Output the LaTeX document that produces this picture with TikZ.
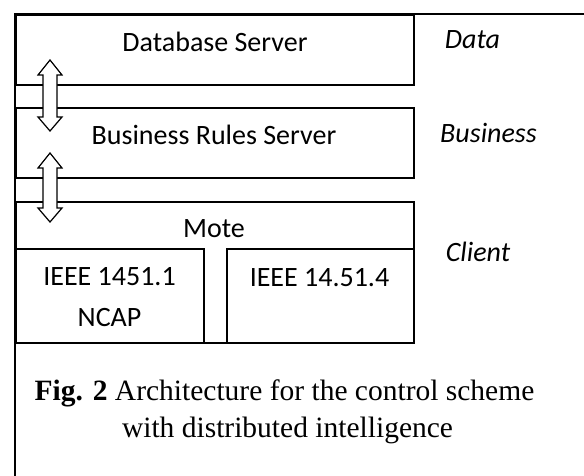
\documentclass[tikz,border=0pt]{standalone}
\usepackage{fontspec}
\setmainfont{Liberation Serif}
\newfontfamily\calib{Carlito}
\begin{document}
\begin{tikzpicture}[x=1pt,y=-1pt,
  box/.style={draw,line width=1.6pt,inner sep=0pt,anchor=north west},
  lbl/.style={font=\calib\fontsize{28}{34}\selectfont,anchor=base,inner sep=0pt},
  lay/.style={font=\calib\itshape\fontsize{28}{34}\selectfont,anchor=base,inner sep=0pt},
  captxt/.style={font=\fontsize{29.5}{34}\selectfont,anchor=base,inner sep=0pt},
  darrow/.style={draw,line width=1.2pt,fill=white,line join=miter},
  frameline/.style={line width=2.4pt}]
\useasboundingbox (0,0) rectangle (584,476);
% boxes
\node[box,minimum width=398pt,minimum height=70pt] (db) at (15,14) {};
\node[box,minimum width=398pt,minimum height=70pt] (br) at (15,107) {};
\node[box,minimum width=398pt,minimum height=141pt] (mote) at (15,201) {};
\node[box,minimum width=188pt,minimum height=94pt] (ieee1) at (15,248) {};
\node[box,minimum width=187pt,minimum height=94pt] (ieee4) at (226,248) {};
% texts
\node[lbl] (tdb) at (215,52) {Database Server};
\node[lbl] (tbr) at (214,144.5) {Business Rules Server};
\node[lbl] (tmote) at (214,237) {Mote};
\node[lbl] (t1a) at (109.5,285) {IEEE 1451.1};
\node[lbl] (t1b) at (109.5,326) {NCAP};
\node[lbl] (t4) at (319.5,286) {IEEE 14.51.4};
\node[lay] (ldata) at (472.5,49) {Data};
\node[lay] (lbus) at (488.5,143) {Business};
\node[lay] (lcli) at (478,261) {Client};
% double arrows between layers
\coordinate (a1) at (50,60);
\coordinate (a2) at (50,153);
\draw[darrow] (a1) -- ++(12,15) -- ++(-5,0) -- ++(0,42) -- ++(5,0) -- ++(-12,14)
  -- ++(-12,-14) -- ++(5,0) -- ++(0,-42) -- ++(-5,0) -- cycle;
\draw[darrow] (a2) -- ++(12,15) -- ++(-5,0) -- ++(0,40) -- ++(5,0) -- ++(-12,14)
  -- ++(-12,-14) -- ++(5,0) -- ++(0,-40) -- ++(-5,0) -- cycle;
% outer frame
\coordinate (fl) at (15,476);
\coordinate (fc) at (15,14);
\coordinate (fr) at (584,14);
\draw[frameline] (fl) -- (fc) -- (fr);
% caption
\node[captxt] (c1) at (284.5,400) {\textbf{Fig. 2} Architecture for the control scheme};
\node[captxt] (c2) at (287.5,437) {with distributed intelligence};
\end{tikzpicture}
\end{document}
